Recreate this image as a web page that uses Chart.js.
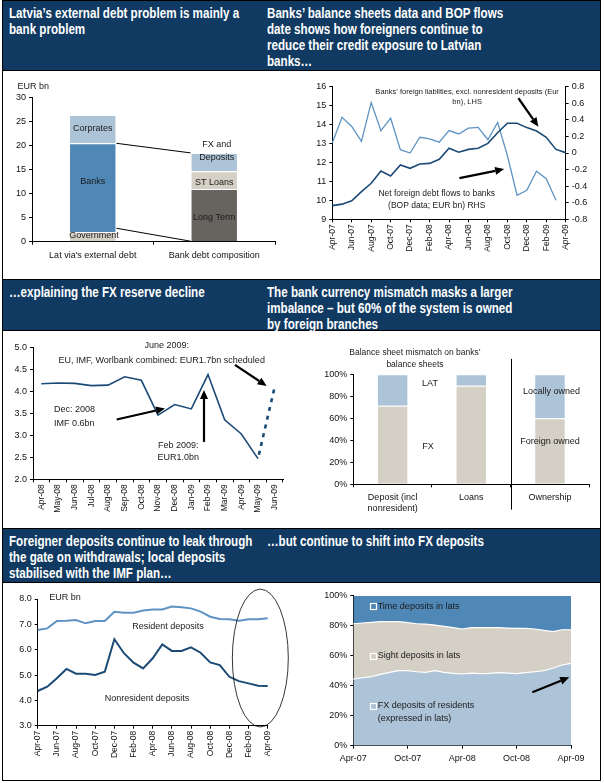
<!DOCTYPE html>
<html><head><meta charset="utf-8">
<script src="https://cdn.jsdelivr.net/npm/chart.js@4"></script>
<style>
html,body{margin:0;padding:0;background:#fff;}
#frame{position:absolute;left:2px;top:0;width:599px;height:781px;border:1px solid #000;box-sizing:border-box;}
.hdr{position:absolute;left:2px;width:599px;background:#103a61;border:1px solid #000;box-sizing:border-box;color:#fff;
 font-family:'Liberation Sans',Arial,Helvetica,sans-serif;font-weight:bold;font-size:14px;line-height:16px;}
.hdr div{position:absolute;top:4px;white-space:nowrap;transform:scaleX(0.83);transform-origin:0 0;}
canvas{position:absolute;}
</style></head>
<body>
<div id="frame"></div>
<div class="hdr" style="top:0;height:71px;">
 <div style="left:6px;">Latvia’s external debt problem is mainly a<br>bank problem</div>
 <div style="left:264px;">Banks’ balance sheets data and BOP flows<br>date shows how foreigners continue to<br>reduce their credit exposure to Latvian<br>banks…</div>
</div>
<div class="hdr" style="top:279px;height:52px;">
 <div style="left:6px;">…explaining the FX reserve decline</div>
 <div style="left:264px;">The bank currency mismatch masks a larger<br>imbalance – but 60% of the system is owned<br>by foreign branches</div>
</div>
<div class="hdr" style="top:528px;height:55px;">
 <div style="left:6px;">Foreigner deposits continue to leak through<br>the gate on withdrawals; local deposits<br>stabilised with the IMF plan…</div>
 <div style="left:264px;">…but continue to shift into FX deposits</div>
</div>
<canvas id="c1"></canvas><canvas id="c2"></canvas><canvas id="c3"></canvas>
<canvas id="c4"></canvas><canvas id="c5"></canvas><canvas id="c6"></canvas>
<script>
// ---------- DATA ----------
const debtCategories = ["Lat via's external debt", 'Bank debt composition'];
const government = [2.0, null];
const banks = [18.5, null];
const corporates = [5.9, null];
const longTerm = [null, 11.0];
const stLoans = [null, 3.7];
const fxAndDeposits = [null, 3.8];

const months = ['Apr-07','May-07','Jun-07','Jul-07','Aug-07','Sep-07','Oct-07','Nov-07','Dec-07','Jan-08','Feb-08','Mar-08',
 'Apr-08','May-08','Jun-08','Jul-08','Aug-08','Sep-08','Oct-08','Nov-08','Dec-08','Jan-09','Feb-09','Mar-09','Apr-09'];
const bankForeignLiab = [9.72, 9.80, 9.98, 10.46, 10.90, 11.55, 11.29, 11.87, 11.69, 11.92, 11.95, 12.17,
 12.75, 12.54, 12.69, 12.75, 13.01, 13.57, 14.07, 14.07, 13.84, 13.66, 13.33, 12.69, 12.52];
const netDebtFlows = [0.12, 0.43, 0.32, 0.14, 0.61, 0.27, 0.42, 0.04, 0.00, 0.19, 0.17, 0.13,
 0.27, 0.23, 0.30, 0.31, 0.16, 0.37, -0.03, -0.51, -0.45, -0.22, -0.31, -0.57, null];

const reserveMonths = ['Apr-08','May-08','Jun-08','Jul-08','Aug-08','Sep-08','Oct-08','Nov-08','Dec-08','Jan-09','Feb-09','Mar-09','Apr-09','May-09','Jun-09'];
const fxReserves = [4.17, 4.19, 4.18, 4.13, 4.14, 4.33, 4.25, 3.46, 3.70, 3.60, 4.38, 3.35, 3.03, 2.47, null];
const scheduledReserves = [null, null, null, null, null, null, null, null, null, null, null, null, null, 2.47, 4.10];

const mismatchCategories = [['Deposit (incl','nonresident)'], 'Loans', 'Ownership'];
const fxOrForeignShare = [71.5, 89.5, 60];
const latOrLocalShare = [28.5, 10.5, 40];

const residentDeposits = [6.78, 6.84, 7.13, 7.14, 7.17, 7.04, 7.13, 7.13, 7.50, 7.46, 7.46, 7.55,
 7.59, 7.59, 7.70, 7.67, 7.63, 7.50, 7.30, 7.21, 7.20, 7.14, 7.20, 7.20, 7.24];
const nonresidentDeposits = [4.37, 4.54, 4.87, 5.24, 5.05, 5.05, 5.00, 5.13, 6.41, 5.86, 5.49, 5.26,
 5.66, 6.21, 5.95, 5.95, 6.09, 5.88, 5.50, 5.39, 4.93, 4.76, 4.67, 4.58, 4.57];

const fxDepositsShare = [44.4, 45.3, 46.0, 47.6, 48.9, 50.0, 50.0, 49.3, 48.9, 50.0, 48.9, 48.2,
 47.8, 48.4, 48.0, 48.2, 48.7, 48.4, 48.0, 48.7, 49.3, 50.0, 51.6, 53.8, 54.9];
const sightDepositsShare = [36.9, 36.5, 36.2, 35.1, 33.8, 32.7, 32.0, 32.0, 32.2, 30.4, 30.7, 30.5,
 30.0, 30.3, 30.7, 30.5, 30.0, 30.0, 30.2, 29.5, 28.5, 26.9, 24.4, 23.5, 22.4];
const timeDepositsShare = [18.7, 18.2, 17.8, 17.3, 17.3, 17.3, 18.0, 18.7, 18.9, 19.6, 20.4, 21.3,
 22.2, 21.3, 21.3, 21.3, 21.3, 21.6, 21.8, 21.8, 22.2, 23.1, 24.0, 22.7, 22.7];

// ---------- STYLE ----------
const FONT = "'Liberation Sans', Arial, Helvetica, sans-serif";
const NAVY = '#1b4a76', MIDBLUE = '#4f87b7', LIGHTBLUE = '#adc3d7', BEIGE = '#d5d0c6', DARKGREY = '#676460', LINEBLUE = '#5f93c3';
Chart.defaults.font.family = FONT;
Chart.defaults.font.size = 9;
Chart.defaults.color = '#111';
Chart.defaults.animation = false;
Chart.defaults.responsive = false;
Chart.defaults.maintainAspectRatio = false;
Chart.defaults.plugins.legend.display = false;
Chart.defaults.plugins.tooltip.enabled = false;

function place(id, l, t, w, h) {
  const c = document.getElementById(id);
  c.width = w; c.height = h;
  c.style.left = l + 'px'; c.style.top = t + 'px';
  c.style.width = w + 'px'; c.style.height = h + 'px';
  return c;
}
function zeroPad(s) { s.paddingLeft = 0; s.paddingRight = 0; s.paddingTop = 0; s.paddingBottom = 0; }
function yAxis(o) {
  return {
    type: 'linear', position: o.pos || 'left', min: o.min, max: o.max, stacked: !!o.stacked,
    ticks: { stepSize: o.step, padding: 3, font: { size: 9 }, color: '#111', callback: o.fmt || (v => v) },
    grid: { drawOnChartArea: false, drawTicks: true, tickLength: 3, color: '#000' },
    border: { display: true, color: '#000', width: 1 },
    afterFit: s => { s.width = o.width; zeroPad(s); }
  };
}
function xAxis(o) {
  const every = o.every || 1;
  return {
    type: 'category', offset: !!o.offset, stacked: !!o.stacked,
    ticks: { autoSkip: false, maxRotation: o.rotate ? 90 : 0, minRotation: o.rotate ? 90 : 0, padding: o.pad || 2,
      font: { size: o.size || 9 }, color: '#111',
      callback: function (v, i) { return i % every ? '' : this.getLabelForValue(v); } },
    grid: { offset: !!o.offset, drawOnChartArea: false, drawTicks: true, tickLength: 3,
      color: c => (c.index % every ? 'rgba(0,0,0,0)' : '#000') },
    border: { display: true, color: '#000', width: 1 },
    afterFit: s => { s.height = o.height; zeroPad(s); }
  };
}
function arrow(ctx, x1, y1, x2, y2) {
  const a = Math.atan2(y2 - y1, x2 - x1), L = 9, W = 4;
  const bx = x2 - L * Math.cos(a), by = y2 - L * Math.sin(a);
  ctx.strokeStyle = '#000'; ctx.fillStyle = '#000'; ctx.lineWidth = 2.2;
  ctx.beginPath(); ctx.moveTo(x1, y1); ctx.lineTo(bx, by); ctx.stroke();
  ctx.beginPath(); ctx.moveTo(x2, y2);
  ctx.lineTo(bx + W * Math.sin(a), by - W * Math.cos(a));
  ctx.lineTo(bx - W * Math.sin(a), by + W * Math.cos(a));
  ctx.closePath(); ctx.fill();
}
function annPlugin(items, extra) {
  return { id: 'ann', afterDraw(chart) {
    const ctx = chart.ctx, X = chart.scales.x;
    ctx.save();
    for (const it of items) {
      const Y = chart.scales[it.axis || 'y'];
      if (it.type === 'text') {
        ctx.font = (it.size || 9) + 'px ' + FONT;
        ctx.fillStyle = it.color || '#1a1a1a';
        ctx.textAlign = it.align || 'center';
        ctx.textBaseline = 'middle';
        ctx.fillText(it.text, X.getPixelForValue(it.x), Y.getPixelForValue(it.y));
      } else if (it.type === 'arrow') {
        arrow(ctx, X.getPixelForValue(it.x1), Y.getPixelForValue(it.y1), X.getPixelForValue(it.x2), Y.getPixelForValue(it.y2));
      } else if (it.type === 'vline') {
        ctx.strokeStyle = '#000'; ctx.lineWidth = 1;
        const x = Math.round(X.getPixelForValue(it.x)) + 0.5;
        ctx.beginPath(); ctx.moveTo(x, Y.getPixelForValue(it.y1)); ctx.lineTo(x, Y.getPixelForValue(it.y2)); ctx.stroke();
      } else if (it.type === 'ellipse') {
        const cx = X.getPixelForValue(it.x), cy = Y.getPixelForValue(it.y);
        const rx = X.getPixelForValue(it.x + it.rx) - cx, ry = Y.getPixelForValue(it.y - it.ry) - cy;
        ctx.strokeStyle = '#000'; ctx.lineWidth = 0.8;
        ctx.beginPath(); ctx.ellipse(cx, cy, rx, ry, 0, 0, Math.PI * 2); ctx.stroke();
      } else if (it.type === 'box') {
        const cx = X.getPixelForValue(it.x), cy = Y.getPixelForValue(it.y);
        ctx.strokeStyle = '#fff'; ctx.lineWidth = 1.2;
        ctx.strokeRect(Math.round(cx - 3) + 0.5, Math.round(cy - 3) + 0.5, 6, 6);
      }
    }
    if (extra) extra(chart, ctx);
    ctx.restore();
  } };
}

// ---------- PANEL 1 ----------
place('c1', 4, 72, 296, 206);
new Chart('c1', {
  type: 'bar',
  data: { labels: debtCategories, datasets: [
    { data: government, backgroundColor: BEIGE },
    { data: banks, backgroundColor: MIDBLUE },
    { data: corporates, backgroundColor: LIGHTBLUE },
    { data: longTerm, backgroundColor: DARKGREY },
    { data: stLoans, backgroundColor: BEIGE },
    { data: fxAndDeposits, backgroundColor: LIGHTBLUE }
  ].map(d => Object.assign(d, { borderColor: '#fff', borderWidth: 1, barPercentage: 0.39, categoryPercentage: 1 })) },
  options: {
    layout: { padding: { left: 0, top: 25.7, right: 25, bottom: 0 } },
    scales: {
      x: xAxis({ offset: true, stacked: true, height: 36.3, pad: 5, size: 9 }),
      y: yAxis({ min: 0, max: 30, step: 5, width: 28, stacked: true })
    }
  },
  plugins: [annPlugin([
    { type: 'text', text: 'EUR bn', x: -0.49, y: 32.4 },
    { type: 'text', text: 'Corprates', x: 0, y: 23.5 },
    { type: 'text', text: 'Banks', x: 0, y: 12.6 },
    { type: 'text', text: 'Government', x: 0.01, y: 1.3 },
    { type: 'text', text: 'FX and', x: 1.02, y: 20.2 },
    { type: 'text', text: 'Deposits', x: 1.02, y: 17.5 },
    { type: 'text', text: 'ST Loans', x: 1, y: 12.4 },
    { type: 'text', text: 'Long Term', x: 1, y: 5.0 }
  ], (chart, ctx) => {
    const bk = chart.getDatasetMeta(1).data[0], lt = chart.getDatasetMeta(3).data[1], fx = chart.getDatasetMeta(5).data[1];
    const r1 = bk.x + bk.width / 2, l2 = lt.x - lt.width / 2;
    ctx.strokeStyle = '#000'; ctx.lineWidth = 1;
    ctx.beginPath(); ctx.moveTo(r1, bk.y); ctx.lineTo(l2, fx.y); ctx.stroke();
    ctx.beginPath(); ctx.moveTo(r1, chart.scales.y.getPixelForValue(2.8)); ctx.lineTo(l2, lt.base); ctx.stroke();
  })]
});

// ---------- PANEL 2 ----------
place('c2', 302, 72, 298, 206);
new Chart('c2', {
  type: 'line',
  data: { labels: months, datasets: [
    { data: bankForeignLiab, yAxisID: 'y', borderColor: NAVY, borderWidth: 1.6, pointRadius: 0, tension: 0 },
    { data: netDebtFlows, yAxisID: 'y1', borderColor: LINEBLUE, borderWidth: 1.3, pointRadius: 0, tension: 0 }
  ] },
  options: {
    layout: { padding: { left: 0, top: 14.7, right: 0, bottom: 0 } },
    scales: {
      x: xAxis({ every: 2, rotate: true, height: 58.7, size: 8.5 }),
      y: yAxis({ min: 9, max: 16, step: 1, width: 30.3 }),
      y1: yAxis({ min: -0.8, max: 0.8, step: 0.2, width: 34.3, pos: 'right', fmt: v => String(Math.round(v * 10) / 10) })
    }
  },
  plugins: [annPlugin([
    { type: 'text', text: 'Banks’ foreign liablities, excl. nonresident deposits (Eur', x: 13.86, y: 15.7, size: 7.5 },
    { type: 'text', text: 'bn), LHS', x: 13.86, y: 15.18, size: 7.5 },
    { type: 'arrow', x1: 19.14, y1: 15.39, x2: 21.19, y2: 13.89 },
    { type: 'text', text: 'Net foreign debt flows to banks', x: 10.74, y: 10.37, size: 8.5 },
    { type: 'text', text: '(BOP data; EUR bn) RHS', x: 10.74, y: 9.7, size: 8.5 },
    { type: 'arrow', x1: 13.07, y1: 11.17, x2: 17.67, y2: 11.65 }
  ])]
});

// ---------- PANEL 3 ----------
place('c3', 4, 333, 296, 193);
new Chart('c3', {
  type: 'line',
  data: { labels: reserveMonths, datasets: [
    { data: fxReserves, borderColor: NAVY, borderWidth: 1.6, pointRadius: 0, tension: 0 },
    { data: scheduledReserves, borderColor: NAVY, borderWidth: 2.6, borderDash: [4, 5], borderDashOffset: 5, pointRadius: 0, tension: 0 }
  ] },
  options: {
    layout: { padding: { left: 0, top: 14.3, right: 17, bottom: 0 } },
    scales: {
      x: xAxis({ offset: true, rotate: true, height: 46.7, size: 8.5 }),
      y: yAxis({ min: 2, max: 5, step: 0.5, width: 29, fmt: v => v.toFixed(1) })
    }
  },
  plugins: [annPlugin([
    { type: 'text', text: 'June 2009:', x: 7.52, y: 5.03 },
    { type: 'text', text: 'EU, IMF, Worlbank combined: EUR1.7bn scheduled', x: 7.22, y: 4.71 },
    { type: 'arrow', x1: 11.62, y1: 4.60, x2: 13.52, y2: 4.12 },
    { type: 'text', text: 'Dec: 2008', x: 0.76, y: 3.58, align: 'left' },
    { type: 'text', text: 'IMF 0.6bn', x: 0.76, y: 3.26, align: 'left' },
    { type: 'arrow', x1: 4.52, y1: 3.36, x2: 7.42, y2: 3.61 },
    { type: 'text', text: 'Feb 2009:', x: 8.22, y: 2.76 },
    { type: 'text', text: 'EUR1.0bn', x: 8.22, y: 2.5 },
    { type: 'arrow', x1: 9.76, y1: 2.85, x2: 9.76, y2: 4.03 }
  ])]
});

// ---------- PANEL 4 ----------
place('c4', 302, 333, 298, 193);
new Chart('c4', {
  type: 'bar',
  data: { labels: mismatchCategories, datasets: [
    { data: fxOrForeignShare, backgroundColor: BEIGE },
    { data: latOrLocalShare, backgroundColor: LIGHTBLUE }
  ].map(d => Object.assign(d, { borderColor: '#fff', borderWidth: 1, barPercentage: 0.4, categoryPercentage: 1 })) },
  options: {
    layout: { padding: { left: 0, top: 41.3, right: 10.7, bottom: 0 } },
    scales: {
      x: xAxis({ offset: true, stacked: true, height: 41.7, pad: 5, size: 9 }),
      y: yAxis({ min: 0, max: 100, step: 10, width: 51.3, stacked: true, fmt: v => v + '%' })
    }
  },
  plugins: [annPlugin([
    { type: 'text', text: 'Balance sheet mismatch on banks’', x: 0.284, y: 119.6, size: 8.5 },
    { type: 'text', text: 'balance sheets', x: 0.284, y: 109.1, size: 8.5 },
    { type: 'text', text: 'LAT', x: 0.475, y: 91.2 },
    { type: 'text', text: 'FX', x: 0.45, y: 34.8 },
    { type: 'text', text: 'Locally owned', x: 2.02, y: 84.2 },
    { type: 'text', text: 'Foreign owned', x: 2.0, y: 38.7 },
    { type: 'vline', x: 1.5, y1: 114, y2: -23 }
  ])]
});

// ---------- PANEL 5 ----------
place('c5', 4, 584, 296, 195);
new Chart('c5', {
  type: 'line',
  data: { labels: months, datasets: [
    { data: residentDeposits, borderColor: LINEBLUE, borderWidth: 2, pointRadius: 0, tension: 0 },
    { data: nonresidentDeposits, borderColor: NAVY, borderWidth: 2, pointRadius: 0, tension: 0 }
  ] },
  options: {
    layout: { padding: { left: 0, top: 15, right: 32.3, bottom: 0 } },
    scales: {
      x: xAxis({ every: 2, rotate: true, height: 53.3, size: 8.5 }),
      y: yAxis({ min: 3, max: 8, step: 1, width: 33.7, fmt: v => v.toFixed(1) })
    }
  },
  plugins: [annPlugin([
    { type: 'text', text: 'EUR bn', x: 2.86, y: 8.04 },
    { type: 'text', text: 'Resident deposits', x: 13.6, y: 6.9 },
    { type: 'text', text: 'Nonresident deposits', x: 11.4, y: 4.09 },
    { type: 'ellipse', x: 23.23, y: 5.67, rx: 2.92, ry: 2.72 }
  ])]
});

// ---------- PANEL 6 ----------
place('c6', 302, 584, 298, 195);
new Chart('c6', {
  type: 'line',
  data: { labels: months, datasets: [
    { data: fxDepositsShare, backgroundColor: LIGHTBLUE, borderColor: '#fff', borderWidth: 1.2, fill: 'origin' },
    { data: sightDepositsShare, backgroundColor: BEIGE, borderColor: '#fff', borderWidth: 1.2, fill: '-1' },
    { data: timeDepositsShare, backgroundColor: MIDBLUE, borderColor: MIDBLUE, borderWidth: 0, fill: '-1' }
  ].map(d => Object.assign(d, { pointRadius: 0, tension: 0 })) },
  options: {
    layout: { padding: { left: 0, top: 11.7, right: 29, bottom: 0 } },
    scales: {
      x: xAxis({ every: 6, height: 33.3, pad: 4, size: 9 }),
      y: yAxis({ min: 0, max: 100, step: 20, width: 51.3, stacked: true, fmt: v => v + '%' })
    }
  },
  plugins: [annPlugin([
    { type: 'box', x: 2.17, y: 93.1 },
    { type: 'text', text: 'Time deposits in lats', x: 2.69, y: 93.1, align: 'left' },
    { type: 'box', x: 2.17, y: 59.8 },
    { type: 'text', text: 'Sight deposits in lats', x: 2.69, y: 59.8, align: 'left' },
    { type: 'box', x: 2.17, y: 26.5 },
    { type: 'text', text: 'FX deposits of residents', x: 2.69, y: 26.5, align: 'left' },
    { type: 'text', text: '(expressed in lats)', x: 2.69, y: 17.8, align: 'left' },
    { type: 'arrow', x1: 19.74, y1: 35.6, x2: 23.8, y2: 45.6 }
  ])]
});
</script>
</body></html>
